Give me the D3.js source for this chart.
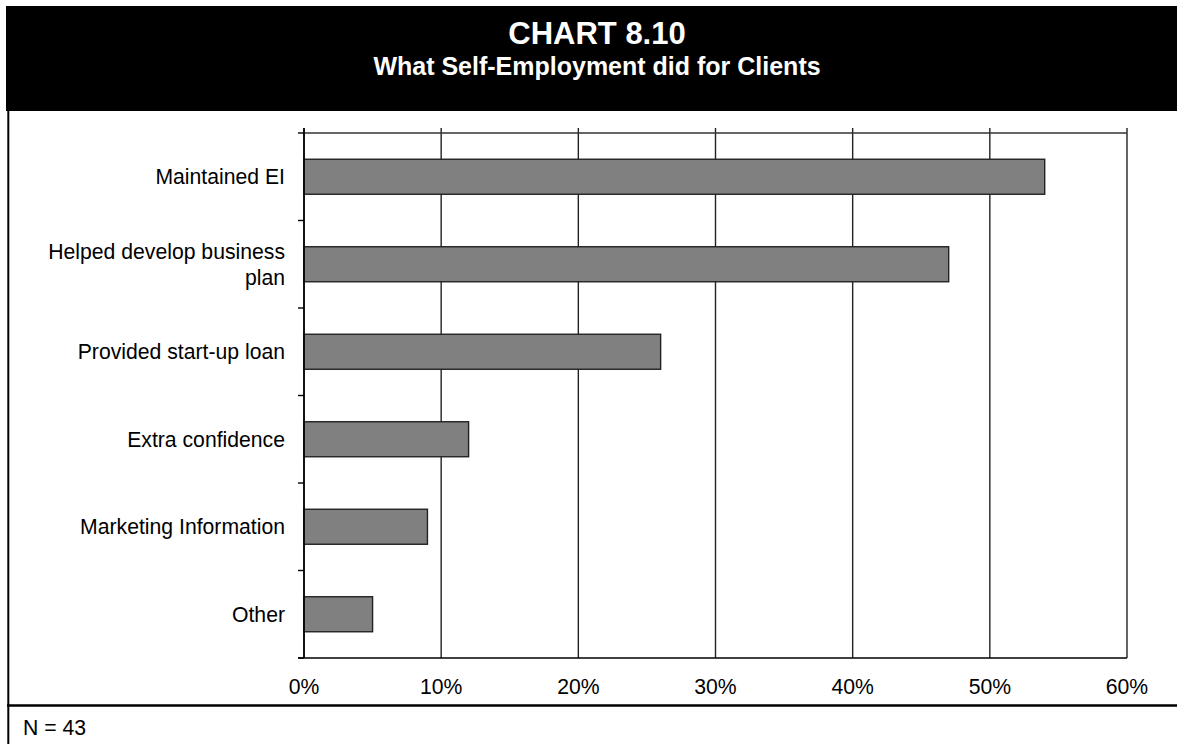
<!DOCTYPE html>
<html>
<head>
<meta charset="utf-8">
<script src="https://cdn.jsdelivr.net/npm/d3@7"></script>
<style>
  html, body { margin: 0; padding: 0; background: #ffffff; }
  svg { display: block; font-family: "Liberation Sans", Arial, Helvetica, sans-serif; }
</style>
</head>
<body>
<svg id="chart" width="1177" height="744"></svg>
<script>
// Chart content
const chartNumber = "CHART 8.10";
const chartTitle = "What Self-Employment did for Clients";
const footnote = "N = 43";

const categories = [
  "Maintained EI",
  "Helped develop business plan",
  "Provided start-up loan",
  "Extra confidence",
  "Marketing Information",
  "Other"
];
const shares = [0.54, 0.47, 0.26, 0.12, 0.09, 0.05];
const tickValues = [0, 0.1, 0.2, 0.3, 0.4, 0.5, 0.6];

const svg = d3.select("#chart");
const W = 1177, H = 744;

// Plot geometry
const plot = { left: 304, right: 1127, top: 133, bottom: 658 };

const x = d3.scaleLinear().domain([0, 0.6]).range([plot.left, plot.right]);
const y = d3.scaleBand().domain(categories).range([plot.top, plot.bottom]).paddingInner(0.6).paddingOuter(0.3);
const yBound = d3.scaleLinear().domain([0, categories.length]).range([plot.top, plot.bottom]);

// Header band
svg.append("rect").attr("x", 6).attr("y", 6).attr("width", W - 6).attr("height", 105).attr("fill", "#000");
svg.append("text").attr("x", 597).attr("y", 44).attr("text-anchor", "middle")
  .attr("fill", "#fff").attr("font-weight", "bold").attr("font-size", 31).text(chartNumber);
svg.append("text").attr("x", 597).attr("y", 75).attr("text-anchor", "middle")
  .attr("fill", "#fff").attr("font-weight", "bold").attr("font-size", 25).text(chartTitle);

// Frame lines
svg.append("line").attr("x1", 8.3).attr("x2", 8.3).attr("y1", 110).attr("y2", H)
  .attr("stroke", "#000").attr("stroke-width", 2);
svg.append("line").attr("x1", 7).attr("x2", W).attr("y1", 705.5).attr("y2", 705.5)
  .attr("stroke", "#000").attr("stroke-width", 2.4);

// Vertical gridlines (with short ticks above the plot)
svg.append("g").selectAll("line").data(tickValues).join("line")
  .attr("x1", d => x(d)).attr("x2", d => x(d))
  .attr("y1", plot.top - 5).attr("y2", plot.bottom)
  .attr("stroke", "#222").attr("stroke-width", 1.4);

// Top border of plot
svg.append("line").attr("x1", plot.left).attr("x2", plot.right).attr("y1", plot.top).attr("y2", plot.top)
  .attr("stroke", "#333").attr("stroke-width", 1.6);

// Bars
svg.append("g").selectAll("rect").data(categories).join("rect")
  .attr("x", x(0))
  .attr("y", d => y(d))
  .attr("width", (d, i) => x(shares[i]) - x(0))
  .attr("height", y.bandwidth())
  .attr("fill", "#808080")
  .attr("stroke", "#222")
  .attr("stroke-width", 1.4);

// Category axis: line plus ticks at category boundaries
const bounds = d3.range(categories.length + 1);
svg.append("g").selectAll("line").data(bounds).join("line")
  .attr("x1", plot.left - 6).attr("x2", plot.left)
  .attr("y1", d => yBound(d)).attr("y2", d => yBound(d))
  .attr("stroke", "#000").attr("stroke-width", 1.4);
svg.append("line").attr("x1", plot.left).attr("x2", plot.left).attr("y1", plot.top - 5).attr("y2", plot.bottom)
  .attr("stroke", "#000").attr("stroke-width", 1.6);
svg.append("line").attr("x1", plot.left - 6).attr("x2", plot.right).attr("y1", plot.bottom).attr("y2", plot.bottom)
  .attr("stroke", "#000").attr("stroke-width", 1.6);

// Category labels, wrapped to fit the left margin
const labelSize = 21.2, lineH = 25.5, maxLabelW = 255;
const labels = svg.append("g").attr("font-size", labelSize).attr("fill", "#000").attr("text-anchor", "end");
categories.forEach(cat => {
  const cy = y(cat) + y.bandwidth() / 2;
  const t = labels.append("text").attr("x", 285);
  const words = cat.split(" ");
  const lines = [];
  let cur = [];
  const probe = labels.append("text");
  words.forEach(w => {
    const test = cur.concat(w).join(" ");
    probe.text(test);
    if (cur.length && probe.node().getComputedTextLength() > maxLabelW) {
      lines.push(cur.join(" "));
      cur = [w];
    } else {
      cur.push(w);
    }
  });
  lines.push(cur.join(" "));
  probe.remove();
  const firstBase = cy - (lines.length - 1) * lineH / 2 + labelSize * 0.36;
  lines.forEach((ln, i) => {
    t.append("tspan").attr("x", 285).attr("y", firstBase + i * lineH).text(ln);
  });
});

// Percentage axis labels
const fmt = d3.format(".0%");
svg.append("g").attr("font-size", labelSize).attr("text-anchor", "middle").attr("fill", "#000")
  .selectAll("text").data(tickValues).join("text")
  .attr("x", d => x(d)).attr("y", 694).text(d => fmt(d));

// Footnote
svg.append("text").attr("x", 23).attr("y", 735).attr("font-size", labelSize).attr("fill", "#000").text(footnote);
</script>
</body>
</html>
